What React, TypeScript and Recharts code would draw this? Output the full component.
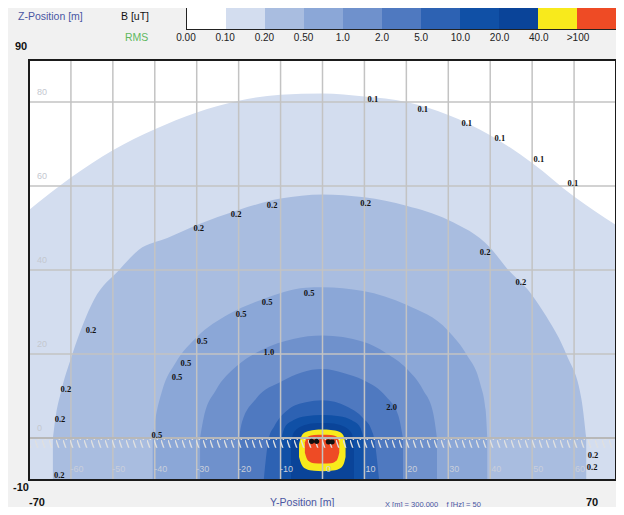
import React from 'react';
import {
  ComposedChart,
  Area,
  XAxis,
  YAxis,
  CartesianGrid,
  ReferenceArea,
  ReferenceLine,
  Scatter,
  LabelList,
} from 'recharts';

// colour scale of the legend, B [uT] RMS
const bandLabels = ['0.00', '0.10', '0.20', '0.50', '1.0', '2.0', '5.0', '10.0', '20.0', '40.0', '>100'];
const bandColors = ['#ffffff', '#d3ddef', '#a9bde0', '#8ba7d7', '#6f91cc', '#4f79c0', '#2d62b3', '#1050a6', '#0a4499', '#f8ea1c', '#ee4b25'];

const yTicks = [-60, -50, -40, -30, -20, -10, 0, 10, 20, 30, 40, 50, 60];
const zTicks = [0, 20, 40, 60, 80];

// iso-lines: [Y, Z low, Z top] in metres
const contour01 = [
  [-70, -10, 54.3], [-60, -10, 62], [-50, -10, 68.5], [-40, -10, 73.5], [-30, -10, 77.5], [-20, -10, 80.3],
  [-10, -10, 81.7], [0, -10, 82], [10, -10, 81.3], [20, -10, 80], [30, -10, 76.9], [40, -10, 72.1],
  [50, -10, 65.5], [60, -10, 57.5], [70, -10, 50.7],
];
const contour02 = [
  [-64.3, -10, 0], [-63.5, -10, 6], [-62.5, -10, 10.5], [-59.7, -10, 19.8], [-54.5, -10, 32.9], [-48.5, -10, 40],
  [-43.8, -10, 44.8], [-37, -10, 47.6], [-30, -10, 50.7], [-20, -10, 54.3], [-10, -10, 57], [0, -10, 58],
  [10, -10, 57.3], [20, -10, 55.3], [30, -10, 51.9], [40, -10, 45.3], [43.9, -10, 40.5], [50, -10, 34],
  [53.4, -10, 28.9], [58.2, -10, 19.8], [61.8, -10, 9], [62.9, -10, 0],
];
const contour05 = [
  [-40.5, -10, 0], [-40, -10, 3.6], [-38.2, -10, 11.4], [-35, -10, 18], [-30, -10, 24], [-22.3, -10, 29.5],
  [-14.4, -10, 33], [-4, -10, 35.8], [0, -10, 35.9], [9.7, -10, 35], [20, -10, 31.7], [30, -10, 25.5],
  [34.4, -10, 19.8], [37.6, -10, 13], [38.9, -10, 6.7], [39.3, -10, 0],
];
const contour1 = [
  [-29.2, -10, 0], [-28.3, -10, 5], [-25.4, -10, 11.4], [-20.6, -10, 17], [-14.4, -10, 21], [-7, -10, 23.6],
  [0, -10, 24.4], [9.7, -10, 22.9], [15.2, -10, 20.2], [20, -10, 16.6], [24, -10, 11.4], [26.4, -10, 5.9],
  [27.3, -10, 0],
];
const contour2 = [
  [-19.9, -10, 0], [-19.2, -10, 3.8], [-15.9, -10, 9.3], [-9.7, -10, 13.5], [-5, -10, 15.6], [0, -10, 16.4],
  [5, -10, 15.5], [9.7, -10, 13.8], [15.2, -10, 9.8], [18.1, -10, 5.3], [19.2, -10, 0],
];
const contour5 = [
  [-14, -10, -10], [-12.8, -10, 0], [-11.5, -10, 2.8], [-8, -10, 6.9], [-4, -10, 8.5], [0, -10, 9],
  [5.8, -10, 7.5], [9.7, -10, 4.7], [11.7, -10, 1.9], [12.3, -10, 0], [13.5, -10, -10],
];
const contour10 = [
  [-10, -10, -1], [-9, -10, 2.5], [-7, -10, 4.2], [-4, -10, 5.2], [0, -10, 5.5], [4, -10, 5.2],
  [7, -10, 4.2], [9, -10, 2.5], [10, -10, -1],
];
const contour20 = [
  [-7.5, -10, -2], [-7, -10, 1], [-5, -10, 2.8], [-2, -10, 3.5], [0, -10, 3.6], [2, -10, 3.5],
  [5, -10, 2.8], [7, -10, 1], [7.5, -10, -2],
];
const contour40 = [
  [-5.6, -4.5, -1.5], [-5, -6.3, 0.5], [-4, -7.3, 1.4], [-2, -7.8, 1.9], [0, -7.9, 2], [2, -7.8, 1.9],
  [4, -7.3, 1.5], [5, -6.3, 0.6], [5.5, -4.5, -1.5],
];
const contour100 = [
  [-4.2, -3.5, -1], [-3.5, -5.3, 0.3], [-2, -6, 0.7], [0, -6.1, 0.8], [2, -6, 0.7], [3.4, -5.3, 0.3],
  [4, -3.5, -1],
];

const contours = [contour01, contour02, contour05, contour1, contour2, contour5, contour10, contour20, contour40, contour100];

// conductor positions [Y, Z]
const conductors = [[-2.6, -0.8], [-1.4, -0.8], [1.4, -0.9], [2.3, -0.9]];

// labels written on the iso-lines [Y, Z, text]
const contourLabels: [number, number, string][] = [
  [12.0, 80.7, '0.1'], [23.9, 78.3, '0.1'], [34.4, 74.9, '0.1'], [42.3, 71.5, '0.1'], [51.6, 66.4, '0.1'], [59.7, 60.6, '0.1'],
  [-29.5, 50, '0.2'], [-20.6, 53.3, '0.2'], [-12, 55.5, '0.2'], [10.3, 56, '0.2'], [38.8, 44.3, '0.2'], [47.3, 37.1, '0.2'],
  [-55.2, 25.7, '0.2'], [-61.2, 11.7, '0.2'], [-62.6, 4.5, '0.2'], [-62.8, -8.9, '0.2'], [64.5, -4, '0.2'], [64.3, -6.9, '0.2'],
  [-3.2, 34.5, '0.5'], [-13.2, 32.4, '0.5'], [-19.4, 29.5, '0.5'], [-28.7, 23.1, '0.5'], [-32.6, 17.8, '0.5'], [-34.7, 14.5, '0.5'],
  [-39.5, 0.8, '0.5'], [-12.8, 20.5, '1.0'], [16.5, 7.3, '2.0'],
];

const blue = '#4a56a3';

export default function App() {
  const labelData = contourLabels.map(([y, z, text]) => ({ y, z, text }));
  const conductorData = conductors.map(([y, z]) => ({ y, z }));

  return (
    <div
      style={{
        position: 'relative',
        width: 624,
        height: 515,
        margin: -8,
        background: '#f1f1f1',
        overflow: 'hidden',
        fontFamily: '"Liberation Sans", Arial, sans-serif',
      }}
    >
      <svg width={0} height={0} style={{ position: 'absolute' }}>
        <defs>
          <pattern id="hatch" width="7" height="10" patternUnits="userSpaceOnUse">
            <line x1="0" y1="0" x2="3.5" y2="10" stroke="#e0e0e0" strokeWidth="1.4" />
          </pattern>
        </defs>
      </svg>

      <ComposedChart width={624} height={515} margin={{ top: 60, right: 8, bottom: 35, left: 29 }}>
        <XAxis
          type="number"
          dataKey="y"
          domain={[-70, 70]}
          ticks={yTicks}
          allowDataOverflow
          mirror
          axisLine={false}
          tickLine={false}
          tick={(p: any) => (
            <text x={p.x + 6} y={p.y} fill="#c9cfdb" fontSize={9} textAnchor="middle" fontFamily="Liberation Sans">
              {p.payload.value}
            </text>
          )}
        />
        <YAxis
          type="number"
          dataKey="z"
          domain={[-10, 90]}
          ticks={zTicks}
          allowDataOverflow
          mirror
          axisLine={false}
          tickLine={false}
          tick={(p: any) => (
            <text x={p.x} y={p.y - 7} fill="#c4c8d0" fontSize={9} textAnchor="start" fontFamily="Liberation Sans">
              {p.payload.value}
            </text>
          )}
        />
        <ReferenceArea x1={-70} x2={70} y1={-10} y2={90} fill="#ffffff" fillOpacity={1} stroke="none" zIndex={-200} />

        {contours.map((pts, i) => (
          <Area
            key={i}
            data={pts.map(([y, lo, hi]) => ({ y, z: [lo, hi] }))}
            dataKey="z"
            type="monotone"
            stroke="none"
            fill={bandColors[i + 1]}
            fillOpacity={1}
            isAnimationActive={false}
            activeDot={false}
            dot={false}
            zIndex={100 + i}
          />
        ))}

        <CartesianGrid stroke="#c3c3c3" strokeWidth={1.5} zIndex={450} />
        <ReferenceArea x1={-70} x2={70} y1={-2.3} y2={0} fill="url(#hatch)" fillOpacity={1} stroke="none" zIndex={460} />
        <ReferenceLine y={0} stroke="#b8b8b8" strokeWidth={2} zIndex={470} />

        <Scatter
          data={conductorData}
          fill="#111"
          isAnimationActive={false}
          shape={(p: any) => <circle cx={p.cx} cy={p.cy} r={2.6} fill="#111" />}
          zIndex={600}
        />
        <Scatter data={labelData} isAnimationActive={false} shape={() => <g />} zIndex={610}>
          <LabelList
            dataKey="text"
            position="center"
            fill="#111"
            fontSize={8.5}
            fontWeight="bold"
            fontFamily="Liberation Serif"
          />
        </Scatter>
        <ReferenceArea x1={-70} x2={70} y1={-10} y2={90} fill="none" stroke="#1b1b1b" strokeWidth={2} zIndex={700} />
      </ComposedChart>

      {/* header */}
      <div style={{ position: 'absolute', left: 18, top: 10, fontSize: 10.5, color: blue }}>Z-Position [m]</div>
      <div style={{ position: 'absolute', left: 121, top: 10, fontSize: 10.5, color: '#111' }}>B [uT]</div>
      <div style={{ position: 'absolute', left: 125, top: 31, fontSize: 10.5, color: '#5fb85f' }}>RMS</div>
      <div style={{ position: 'absolute', left: 15, top: 40, fontSize: 11, fontWeight: 'bold', color: '#111' }}>90</div>

      <div
        style={{
          position: 'absolute',
          left: 186,
          top: 7,
          width: 431,
          height: 23,
          border: '1px solid #222',
          boxSizing: 'border-box',
          display: 'flex',
        }}
      >
        {bandColors.map((c) => (
          <div key={c} style={{ flex: 1, background: c }} />
        ))}
      </div>
      {bandLabels.map((t, i) => (
        <div
          key={t}
          style={{
            position: 'absolute',
            left: 186 + i * 39.2 - 20,
            width: 40,
            top: 32,
            textAlign: 'center',
            fontSize: 10,
            color: '#222',
          }}
        >
          {t}
        </div>
      ))}

      {/* footer */}
      <div style={{ position: 'absolute', left: 13, top: 481, fontSize: 11, fontWeight: 'bold', color: '#111' }}>-10</div>
      <div style={{ position: 'absolute', left: 29, top: 496, fontSize: 11, fontWeight: 'bold', color: '#111' }}>-70</div>
      <div style={{ position: 'absolute', left: 270, top: 496, fontSize: 10.5, color: blue }}>Y-Position [m]</div>
      <div style={{ position: 'absolute', left: 385, top: 500, fontSize: 7.5, color: blue }}>
        X [m] = 300.000&nbsp;&nbsp;&nbsp;&nbsp;f [Hz] = 50
      </div>
      <div style={{ position: 'absolute', left: 586, top: 496, fontSize: 11, fontWeight: 'bold', color: '#111' }}>70</div>
    </div>
  );
}
